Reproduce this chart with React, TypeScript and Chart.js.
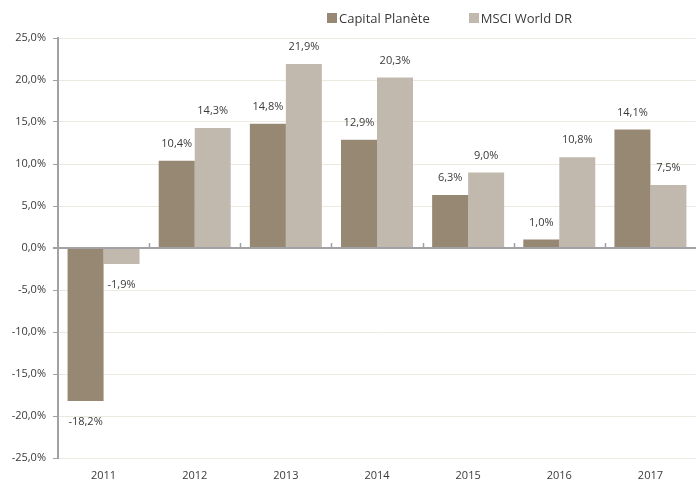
import React, { useEffect, useRef } from "react";
import { Chart, registerables } from "chart.js";

Chart.register(...registerables);

const categories = ["2011", "2012", "2013", "2014", "2015", "2016", "2017"];
const capitalPlanete = [-18.2, 10.4, 14.8, 12.9, 6.3, 1.0, 14.1];
const msciWorld = [-1.9, 14.3, 21.9, 20.3, 9.0, 10.8, 7.5];
const seriesNames = ["Capital Planète", "MSCI World DR"];
const seriesColors = ["#978874", "#C2B9AE"];

const FONT = "'Open Sans', 'Noto Sans', sans-serif";
const TEXT = "#3a3a3a";
const AXIS = "#A2A2A6";

const fmt = (v: number) => v.toFixed(1).replace(".", ",") + "%";

const labelPlugin = {
  id: "barLabels",
  afterDatasetsDraw(chart: any) {
    const ctx = chart.ctx;
    ctx.save();
    ctx.font = `11px ${FONT}`;
    ctx.fillStyle = TEXT;
    ctx.textAlign = "center";
    ctx.textBaseline = "middle";
    chart.data.datasets.forEach((ds: any, di: number) => {
      const meta = chart.getDatasetMeta(di);
      meta.data.forEach((bar: any, i: number) => {
        const v = ds.data[i];
        const y = v >= 0 ? bar.y - 17 : bar.y + 21;
        ctx.fillText(fmt(v), bar.x, y);
      });
    });
    // category tick marks on the zero line
    const xs = chart.scales.x;
    const ys = chart.scales.y;
    const y0 = ys.getPixelForValue(0);
    ctx.strokeStyle = AXIS;
    ctx.lineWidth = 1.5;
    for (let i = 1; i < categories.length; i++) {
      const x = Math.round((xs.getPixelForTick(i - 1) + xs.getPixelForTick(i)) / 2) + 0.5;
      ctx.beginPath();
      ctx.moveTo(x, y0);
      ctx.lineTo(x, y0 - 5);
      ctx.stroke();
    }
    ctx.restore();
  },
};

export default function App() {
  const ref = useRef<HTMLCanvasElement | null>(null);
  useEffect(() => {
    if (!ref.current) return;
    const chart = new Chart(ref.current, {
      type: "bar",
      data: {
        labels: categories,
        datasets: [
          {
            label: seriesNames[0],
            data: capitalPlanete,
            backgroundColor: seriesColors[0],
            categoryPercentage: 0.79,
            barPercentage: 1,
          },
          {
            label: seriesNames[1],
            data: msciWorld,
            backgroundColor: seriesColors[1],
            categoryPercentage: 0.79,
            barPercentage: 1,
          },
        ],
      },
      options: {
        animation: false,
        responsive: false,
        maintainAspectRatio: false,
        layout: { padding: { top: 38, right: -4, left: 0, bottom: 0 } },
        plugins: {
          legend: { display: false },
          tooltip: { enabled: false },
        },
        scales: {
          x: {
            grid: { display: false, drawTicks: false },
            border: { display: false },
            ticks: {
              padding: 11,
              color: TEXT,
              font: { family: FONT, size: 11 },
              maxRotation: 0,
            },
            afterFit: (s: any) => {
              s.height = 21;
            },
          },
          y: {
            min: -25,
            max: 25,
            ticks: {
              stepSize: 5,
              padding: 7,
              color: TEXT,
              font: { family: FONT, size: 11 },
              callback: (v: any) => fmt(Number(v)),
            },
            grid: {
              color: (c: any) => (c.tick && c.tick.value === 0 ? AXIS : "#ECEAE0"),
              lineWidth: (c: any) => (c.tick && c.tick.value === 0 ? 2 : 1),
              tickColor: AXIS,
              tickLength: 5,
              drawTicks: true,
            },
            border: { display: true, color: AXIS, width: 2 },
            afterFit: (s: any) => {
              s.width = 58;
            },
          },
        },
      },
      plugins: [labelPlugin],
    });
    return () => chart.destroy();
  }, []);

  return (
    <div style={{ position: "fixed", left: 0, top: 0, width: 696, height: 479, background: "#fff" }}>
      <canvas ref={ref} width={696} height={479} style={{ width: 696, height: 479 }} />
      <div
        style={{
          position: "absolute",
          top: 9,
          left: 327,
          display: "flex",
          alignItems: "center",
          fontFamily: FONT,
          fontSize: 13,
          color: TEXT,
        }}
      >
        {seriesNames.map((n, i) => (
          <div key={n} style={{ display: "flex", alignItems: "center", marginRight: i === 0 ? 39 : 0 }}>
            <span style={{ display: "inline-block", width: 10, height: 10, background: seriesColors[i], marginRight: 2 }} />
            <span>{n}</span>
          </div>
        ))}
      </div>
    </div>
  );
}
